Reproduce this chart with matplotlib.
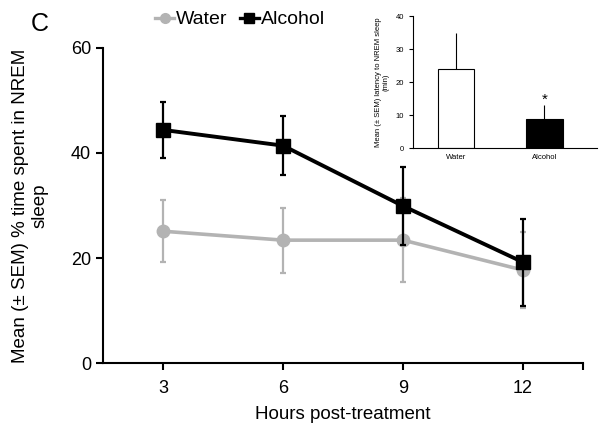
import matplotlib
matplotlib.use("Agg")
import matplotlib.pyplot as plt
from matplotlib.lines import Line2D

plt.rcParams['font.family'] = ['Liberation Sans', 'DejaVu Sans']

hours = [3, 6, 9, 12]
water_mean = [25.1, 23.4, 23.4, 17.7]
water_sem = [5.9, 6.2, 8.0, 7.2]
alcohol_mean = [44.4, 41.4, 29.9, 19.2]
alcohol_sem = [5.3, 5.6, 7.4, 8.3]

inset_groups = ["Water", "Alcohol"]
inset_means = [23.9, 8.7]
inset_sems = [11.0, 4.4]

fig = plt.figure(figsize=(6.0, 4.37), dpi=100)
ax = fig.add_axes([0.1717, 0.1693, 0.80, 0.7209])

grey = '#b3b3b3'
ax.errorbar(hours, water_mean, yerr=water_sem, color=grey, marker='o', ms=9,
            lw=2.6, elinewidth=1.6, capsize=2, capthick=1.6, zorder=2)
ax.errorbar(hours, alcohol_mean, yerr=alcohol_sem, color='black', marker='s', ms=10,
            lw=2.8, elinewidth=1.6, capsize=2, capthick=1.6, zorder=3)

ax.set_xlim(1.5, 13.5)
ax.set_ylim(0, 60)
ax.set_xticks(hours)
ax.set_xticks([13.5], minor=True)
ax.set_yticks([0, 20, 40, 60])
ax.tick_params(axis='both', which='both', direction='out', length=5, width=1.5, labelsize=13)
ax.tick_params(axis='x', pad=7)
for s in ['top', 'right']:
    ax.spines[s].set_visible(False)
for s in ['left', 'bottom']:
    ax.spines[s].set_linewidth(1.5)
ax.set_xlabel('Hours post-treatment', fontsize=13.5, labelpad=7)
ax.set_ylabel('Mean (\u00b1 SEM) % time spent in NREM\nsleep', fontsize=13.5, labelpad=16)

handles = [Line2D([], [], color=grey, marker='o', ms=7, lw=2.4),
           Line2D([], [], color='black', marker='s', ms=7, lw=2.4)]
fig.legend(handles, ['Water', 'Alcohol'], loc='center', bbox_to_anchor=(0.40, 0.955), ncol=2,
           frameon=False, fontsize=14, handlelength=1.0, handletextpad=0.1, columnspacing=0.6)

fig.text(0.067, 0.945, 'C', fontsize=18, ha='center', va='center')

# inset
ia = fig.add_axes([0.688, 0.661, 0.307, 0.302])
pos = [0, 1]
ia.bar(pos, inset_means, width=0.41, color=['white', 'black'], edgecolor='black', linewidth=0.8, zorder=2)
ia.errorbar(pos, inset_means, yerr=[[0, 0], inset_sems], fmt='none', ecolor='black',
            elinewidth=0.8, capsize=0, zorder=1)
ia.text(1, inset_means[1] + inset_sems[1] - 0.5, '*', ha='center', va='bottom', fontsize=11)
ia.set_xlim(-0.486, 1.593)
ia.set_ylim(0, 40)
ia.set_xticks(pos)
ia.set_xticklabels(inset_groups)
ia.set_yticks([0, 10, 20, 30, 40])
ia.tick_params(axis='y', direction='out', length=3, width=0.8, labelsize=5.5)
ia.tick_params(axis='x', length=0, labelsize=5.5, pad=4)
for s in ['top', 'right']:
    ia.spines[s].set_visible(False)
for s in ['left', 'bottom']:
    ia.spines[s].set_linewidth(0.8)
ia.set_ylabel('Mean (\u00b1 SEM) latency to NREM sleep\n(min)', fontsize=5.5, labelpad=4)

fig.savefig('out.png', dpi=100)
